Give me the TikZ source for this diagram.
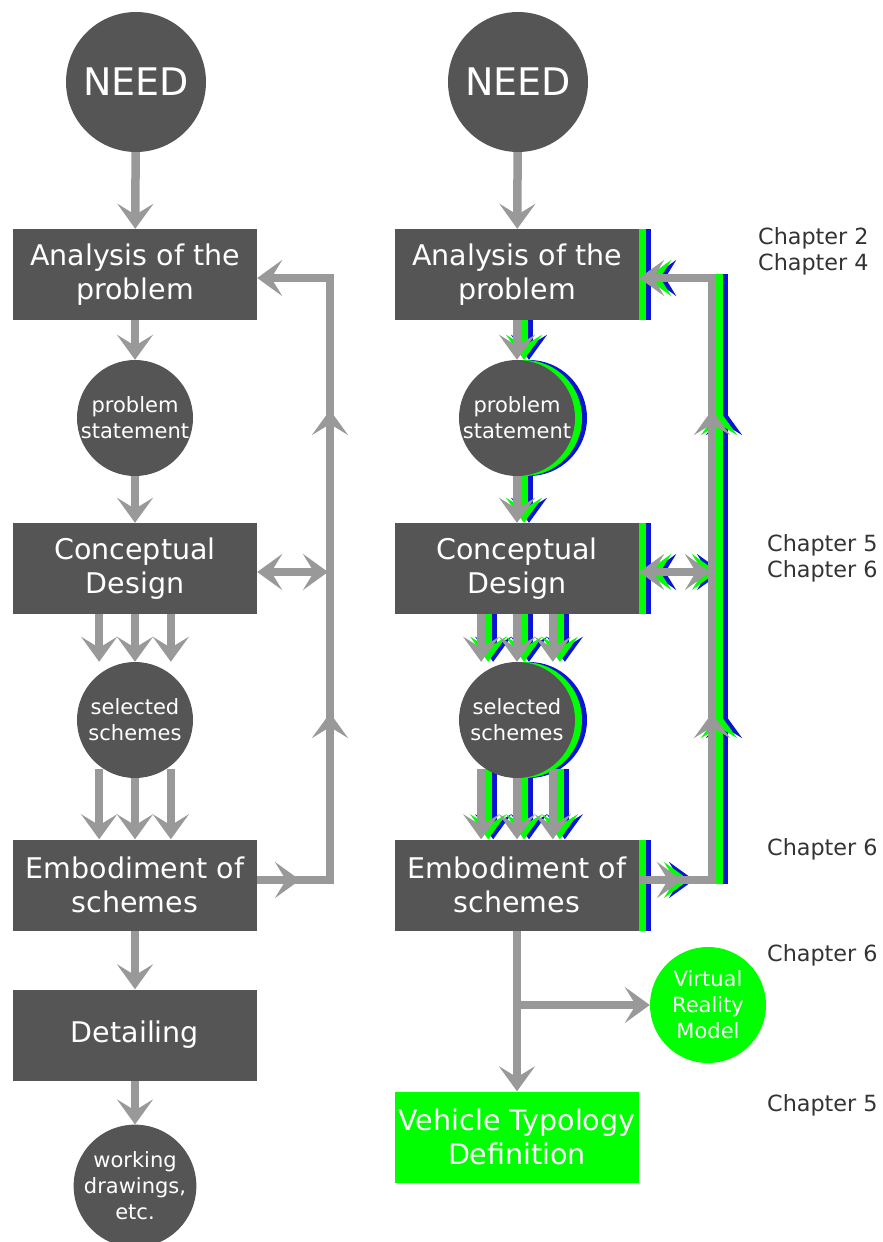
\documentclass[tikz,border=0pt]{standalone}
\usepackage{fontspec}
\setmainfont{DejaVu Sans}
\usetikzlibrary{arrows.meta, calc}
\definecolor{stagedark}{HTML}{555555}
\definecolor{flowgray}{HTML}{999999}
\definecolor{vrgreen}{HTML}{00FF00}
\definecolor{ghostblue}{HTML}{0A14D2}
\definecolor{chaptertext}{HTML}{333333}

% colours used by the flow, changed for the shadow copies
\colorlet{boxcol}{stagedark}
\colorlet{linkcol}{flowgray}
\newcommand{\lbl}[1]{#1}

\tikzset{
  stage/.style={rectangle, fill=boxcol, text=white, minimum width=244pt, minimum height=91pt,
    inner sep=0pt, align=center, font=\fontsize{28.5}{34}\selectfont},
  bubble/.style={circle, fill=boxcol, text=white, minimum size=116pt, inner sep=0pt,
    align=center, font=\fontsize{21}{26}\selectfont},
  origin/.style={circle, fill=stagedark, text=white, minimum size=140pt, inner sep=0pt,
    font=\fontsize{38}{38}\selectfont},
  flow/.style={draw=linkcol, line width=8.5pt, -{Stealth[length=25pt, width=36pt, inset=11pt]}},
  twoway/.style={flow, {Stealth[length=25pt, width=36pt, inset=11pt]}-{Stealth[length=25pt, width=36pt, inset=11pt]}},
  chapter/.style={anchor=west, inner sep=0pt, align=left, text=chaptertext, font=\fontsize{22.3}{26}\selectfont}
}

% analysis -> embodiment with its feedback path
\newcommand{\designcore}[1]{%
  \node[stage] (#1ana) at (0,274.5) {\lbl{Analysis of the\\problem}};
  \node[bubble] (#1ps) at (0,418) {\lbl{problem\\statement}};
  \node[stage] (#1cd) at (0,568.5) {\lbl{Conceptual\\Design}};
  \node[bubble] (#1sel) at (0,720) {\lbl{selected\\schemes}};
  \node[stage] (#1emb) at (0,885) {\lbl{Embodiment of\\schemes}};
  % feedback points
  \coordinate (#1top) at (195,278);
  \coordinate (#1mid) at (193,572);
  \coordinate (#1bot) at (195,880);
  \coordinate (#1out) at (165,880);
  \coordinate (#1upA) at (195,713);
  \coordinate (#1upB) at (195,410);
  % main line
  \draw[flow] (#1ana) -- (#1ps);
  \draw[flow] (#1ps) -- (#1cd);
  \draw[flow] (#1cd.south -| #1sel.232) -- (#1sel.north -| #1sel.232);
  \draw[flow] (#1cd.south) -- (#1sel.north);
  \draw[flow] (#1cd.south -| #1sel.308) -- (#1sel.north -| #1sel.308);
  \draw[flow] ([yshift=-3pt]#1sel.232) -- (#1emb.north -| #1sel.232);
  \draw[flow] (#1sel.south) -- (#1emb.north);
  \draw[flow] ([yshift=-3pt]#1sel.308) -- (#1emb.north -| #1sel.308);
  % feedback loop
  \draw[flow] (#1emb.east |- #1bot) -- (#1bot) -- (#1top) -- (#1top -| #1ana.east);
  \draw[flow] (#1emb.east |- #1bot) -- (#1out);
  \draw[flow] (#1bot) -- (#1upA);
  \draw[flow] (#1bot |- #1mid) -- (#1upB);
  \draw[twoway] (#1cd.east |- #1mid) -- (#1mid);
}

\begin{document}
\begin{tikzpicture}[x=1pt, y=-1pt]
  \useasboundingbox (0,0) rectangle (883,1242);

  % Left column: classic design process
  \begin{scope}[shift={(135,0)}]
    \node[origin] (lneed) at (1,82) {NEED};
    \designcore{l}
    \node[stage] (ldet) at (0,1035) {Detailing};
    \node[bubble] (lwork) at (0,1186) {working\\drawings,\\etc.};
    \draw[flow] (lneed) -- (lana);
    \draw[flow] (lemb) -- (ldet);
    \draw[flow] (ldet) -- (lwork);
  \end{scope}

  % Right column: shadow copies (blue, then green), no labels
  \begin{scope}[shift={(529,0)}]
    \colorlet{boxcol}{ghostblue}\colorlet{linkcol}{ghostblue}\renewcommand{\lbl}[1]{}
    \designcore{b}
  \end{scope}
  \begin{scope}[shift={(524,0)}]
    \colorlet{boxcol}{vrgreen}\colorlet{linkcol}{vrgreen}\renewcommand{\lbl}[1]{}
    \designcore{g}
  \end{scope}

  % Right column
  \begin{scope}[shift={(517,0)}]
    \node[origin] (rneed) at (1,82) {NEED};
    \designcore{r}
    \node[stage, fill=vrgreen] (rtvd) at (0,1137) {Vehicle Typology\\Definition};
    \node[bubble, fill=vrgreen] (rvr) at (191,1005) {Virtual\\Reality\\Model};
    \coordinate (rsplit) at (0,1005);
    \draw[flow] (rneed) -- (rana);
    \draw[flow] (remb) -- (rtvd);
    \draw[flow] (rsplit) -- (rvr);
  \end{scope}

  % Chapter references
  \node[chapter] (ch24) at (758,251) {Chapter 2\\Chapter 4};
  \node[chapter] (ch56) at (767,558) {Chapter 5\\Chapter 6};
  \node[chapter] (ch6a) at (767,849) {Chapter 6};
  \node[chapter] (ch6b) at (767,955) {Chapter 6};
  \node[chapter] (ch5) at (767,1105) {Chapter 5};
\end{tikzpicture}
\end{document}
